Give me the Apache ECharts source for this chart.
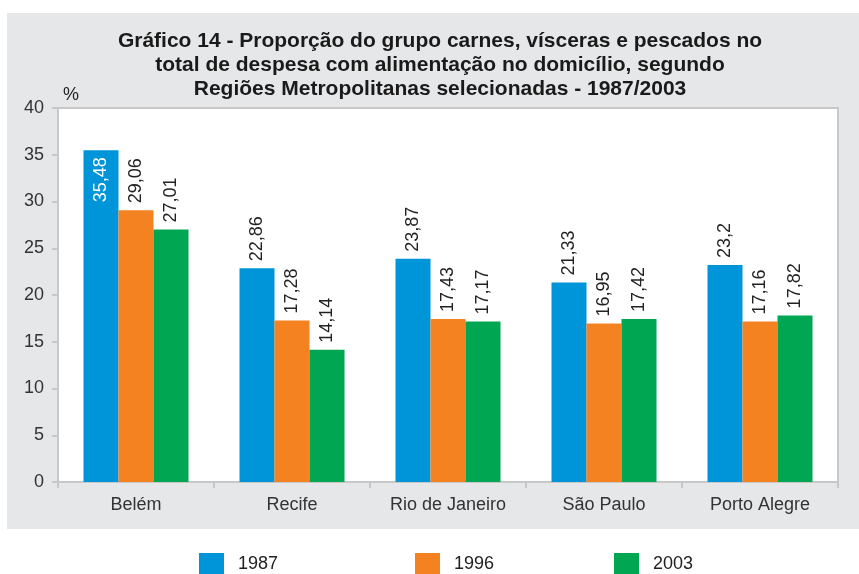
<!DOCTYPE html>
<html>
<head>
<meta charset="utf-8">
<script src="https://cdn.jsdelivr.net/npm/echarts@6/dist/echarts.min.js"></script>
<style>
  html, body { margin: 0; padding: 0; background: #fff; }
  #chart { width: 859px; height: 574px; }
</style>
</head>
<body>
<div id="chart"></div>
<script>
// regiões e valores (%)
var regioes = ["Belém", "Recife", "Rio de Janeiro", "São Paulo", "Porto Alegre"];
var anos = ["1987", "1996", "2003"];
var v1987 = [35.48, 22.86, 23.87, 21.33, 23.2];
var v1996 = [29.06, 17.28, 17.43, 16.95, 17.16];
var v2003 = [27.01, 14.14, 17.17, 17.42, 17.82];
var cores = ["#0095d9", "#f58220", "#00a651"];

var fonte = "'Liberation Sans', Arial, sans-serif";

function virgula(p) {
  return String(p.value).replace(".", ",");
}

// o rótulo da maior barra fica dentro (branco), os outros em cima
function montaDados(vals, dentro) {
  return vals.map(function (v, i) {
    if (dentro && i === 0) {
      return {
        value: v,
        label: { position: "insideTop", align: "right", color: "#fff", distance: 7 }
      };
    }
    return v;
  });
}

function serie(nome, vals, cor, dentro) {
  return {
    name: nome,
    type: "bar",
    barWidth: 35,
    barGap: "0%",
    itemStyle: { color: cor },
    label: {
      show: true,
      position: "top",
      rotate: 90,
      align: "left",
      verticalAlign: "middle",
      distance: 7,
      fontSize: 18,
      fontFamily: fonte,
      color: "#222",
      formatter: virgula
    },
    data: montaDados(vals, dentro)
  };
}

function legenda(nome, x) {
  return {
    data: [{ name: nome, icon: "rect" }],
    left: x,
    top: 553,
    padding: 0,
    itemWidth: 25,
    itemHeight: 22,
    itemGap: 0,
    selectedMode: false,
    textStyle: { fontSize: 18, fontFamily: fonte, color: "#222", padding: [0, 0, 0, 9] }
  };
}

var myChart = echarts.init(document.getElementById("chart"));
var option = {
  backgroundColor: "#fff",
  animation: false,
  graphic: [
    { type: "rect", z: -100, shape: { x: 7, y: 13, width: 852, height: 516 }, style: { fill: "#e6e7e8" } },
    {
      type: "text", x: 440, y: 29, z: 10,
      style: {
        text: "Gráfico 14 - Proporção do grupo carnes, vísceras e pescados no\ntotal de despesa com alimentação no domicílio, segundo\nRegiões Metropolitanas selecionadas - 1987/2003",
        align: "center",
        font: "bold 21px " + fonte,
        lineHeight: 24,
        fill: "#1a1a1a"
      }
    },
    { type: "text", x: 63, y: 86, z: 10, style: { text: "%", font: "18px " + fonte, fill: "#222" } }
  ],
  legend: [legenda("1987", 199), legenda("1996", 415), legenda("2003", 614)],
  grid: {
    left: 58, right: 21, top: 108, bottom: 92,
    show: true,
    backgroundColor: "#fff",
    borderColor: "#c8c8c8",
    borderWidth: 2
  },
  xAxis: {
    type: "category",
    data: regioes,
    axisLine: { lineStyle: { color: "#c8c8c8", width: 2 } },
    axisTick: { show: true, length: 6, lineStyle: { color: "#c8c8c8", width: 2 } },
    axisLabel: { fontSize: 18, fontFamily: fonte, color: "#333", margin: 14 }
  },
  yAxis: {
    type: "value",
    min: 0,
    max: 40,
    interval: 5,
    axisLine: { show: true, lineStyle: { color: "#c8c8c8", width: 2 } },
    axisTick: { show: true, length: 6, lineStyle: { color: "#c8c8c8", width: 2 } },
    splitLine: { show: false },
    axisLabel: { fontSize: 18, fontFamily: fonte, color: "#333", margin: 14 }
  },
  series: [
    serie(anos[0], v1987, cores[0], true),
    serie(anos[1], v1996, cores[1], false),
    serie(anos[2], v2003, cores[2], false)
  ]
};
myChart.setOption(option);
</script>
</body>
</html>
